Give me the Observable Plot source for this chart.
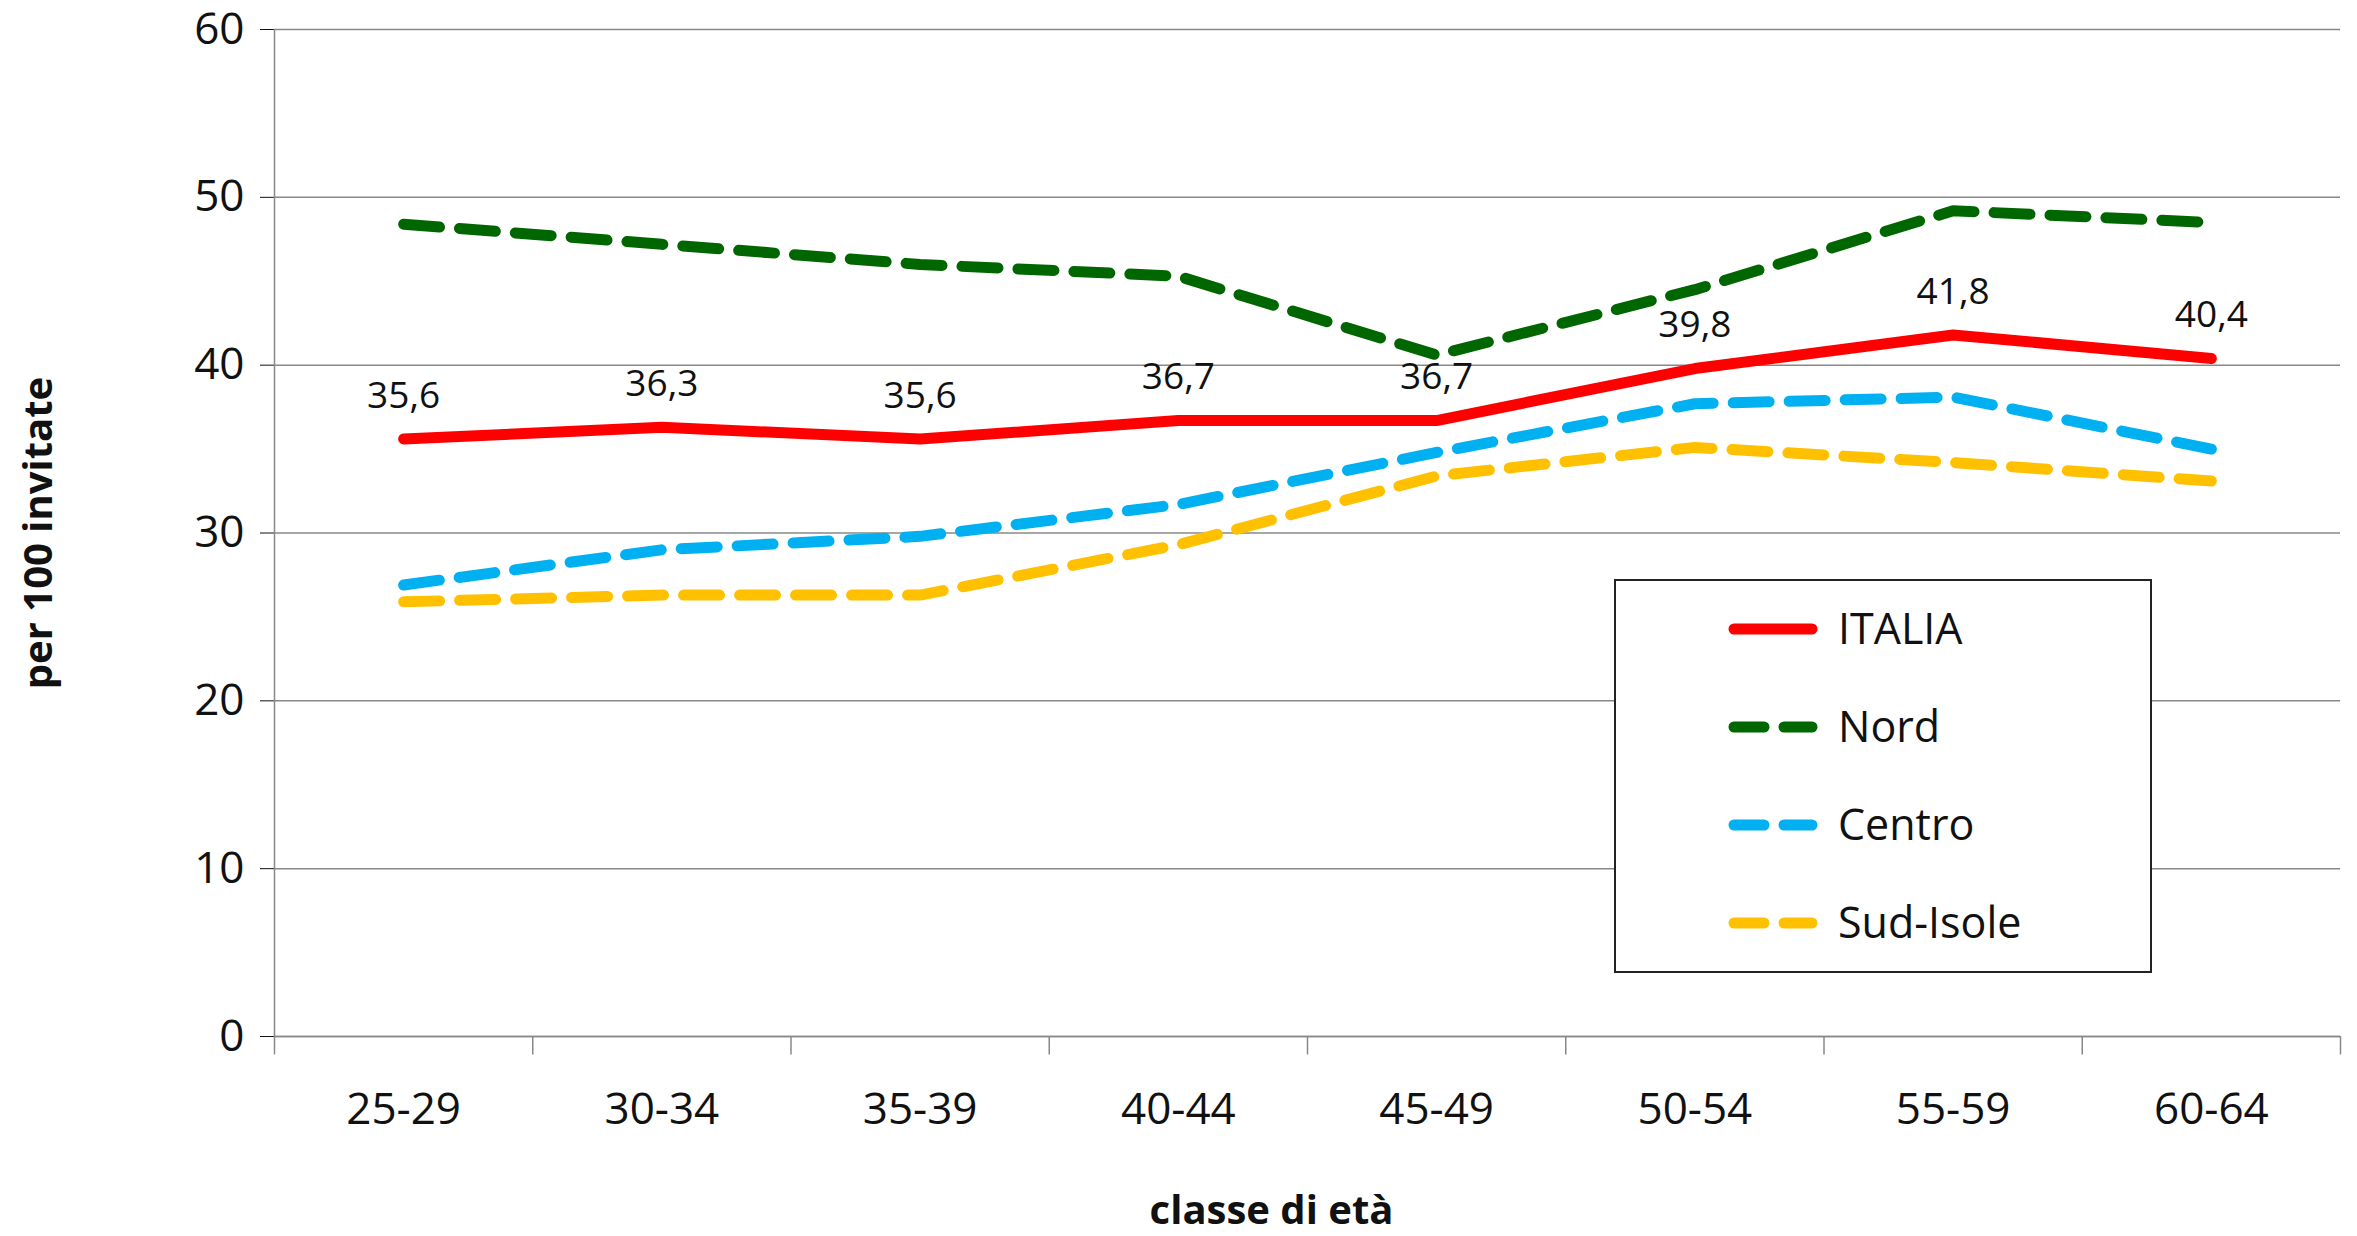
<!DOCTYPE html>
<html><head><meta charset="utf-8">
<script src="https://cdn.jsdelivr.net/npm/d3@7"></script>
<script src="https://cdn.jsdelivr.net/npm/@observablehq/plot@0.6"></script>
<style>
body{margin:0;background:#fff;font-family:"Open Sans",sans-serif;}
#wrap{position:relative;width:2357px;height:1236px;}
#legend{position:absolute;left:1614px;top:579px;width:538px;height:394px;border:2px solid #222;background:#fff;box-sizing:border-box;}
.li{position:absolute;left:0;font-size:43px;color:#111;}
.li svg{position:absolute;left:112px;top:0;}
.li span{position:absolute;left:222px;top:-31px;white-space:nowrap;}
</style></head><body><div id="wrap"><div id="chart"></div><div id="legend"></div></div>
<script>
const categories=["25-29","30-34","35-39","40-44","45-49","50-54","55-59","60-64"];
const italia=[35.6,36.3,35.6,36.7,36.7,39.8,41.8,40.4];
const nord=[48.4,47.2,46.0,45.3,40.6,44.5,49.2,48.5];
const centro=[26.9,29.0,29.8,31.7,34.8,37.7,38.1,35.0];
const sud=[25.9,26.3,26.3,29.3,33.4,35.1,34.2,33.1];
const italiaLabels=["35,6","36,3","35,6","36,7","36,7","39,8","41,8","40,4"];
const yTicks=[0,10,20,30,40,50,60];
const series=[
 {name:"ITALIA",vals:italia,color:"#ff0000",dash:null},
 {name:"Nord",vals:nord,color:"#006600",dash:"36,20"},
 {name:"Centro",vals:centro,color:"#00b0f0",dash:"36,20"},
 {name:"Sud-Isole",vals:sud,color:"#ffc000",dash:"36,20"}];
const idx=categories.map((c,i)=>i);
const lineMarks=series.slice().reverse().map(s=>Plot.line(idx,{x:i=>i,y:i=>s.vals[i],stroke:s.color,strokeWidth:11,strokeDasharray:s.dash,strokeLinecap:"round"}));
const chart=Plot.plot({
 width:2357,height:1236,marginLeft:274,marginRight:17,marginTop:29,marginBottom:200,
 style:{fontFamily:"Open Sans, sans-serif",fontSize:"44px",color:"#111"},
 x:{domain:[-0.5,7.5],ticks:idx,tickFormat:i=>categories[i],tickSize:0,tickPadding:56,label:null},
 y:{domain:[0,60],ticks:yTicks,tickSize:14,tickPadding:16,label:null},
 marks:[
  Plot.gridY(yTicks,{stroke:"#888",strokeOpacity:1,strokeWidth:1.5}),
  Plot.ruleX(d3.range(-0.5,8,1),{y1:0,y2:-1.1,stroke:"#888",strokeWidth:1.5}),
  Plot.ruleX([-0.5],{y1:0,y2:60,stroke:"#888",strokeWidth:1.5}),
  Plot.ruleY([0],{stroke:"#888",strokeWidth:1.5}),
  ...lineMarks,
  Plot.text(idx,{x:i=>i,y:i=>italia[i],text:i=>italiaLabels[i],dy:-43,fontSize:37,fill:"#111"}),
  Plot.text(["per 100 invitate"],{x:-0.5,y:30,dx:-235,rotate:-90,fontSize:40,fontWeight:"bold",fill:"#111"}),
  Plot.text(["classe di età"],{x:3.5,y:0,dy:175,dx:-36,fontSize:40,fontWeight:"bold",fill:"#111"})
 ]});
chart.style.overflow="visible";
document.getElementById("chart").appendChild(chart);
const lg=document.getElementById("legend");
series.forEach((s,k)=>{
 const d=document.createElement("div");d.className="li";d.style.top=(48+k*98)+"px";
 d.innerHTML=`<svg width="90" height="14" style="top:-7px"><line x1="6" y1="7" x2="84" y2="7" stroke="${s.color}" stroke-width="11" stroke-linecap="round" ${s.dash?'stroke-dasharray="30,20"':''}/></svg><span>${s.name}</span>`;
 lg.appendChild(d);
});
</script></body></html>
